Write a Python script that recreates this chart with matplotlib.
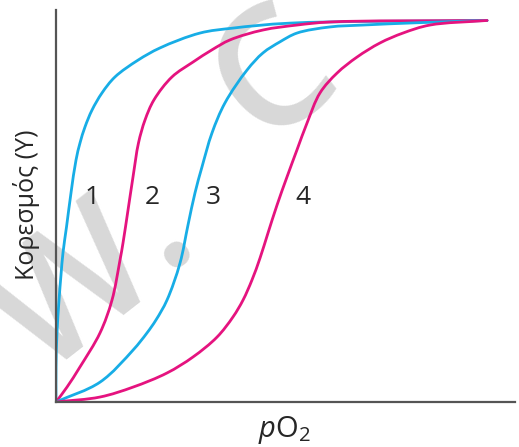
import matplotlib.pyplot as plt
from matplotlib.path import Path
from matplotlib.patches import PathPatch

plt.rcParams['font.family'] = ['Open Sans', 'DejaVu Sans']
plt.rcParams['mathtext.fontset'] = 'custom'
plt.rcParams['mathtext.rm'] = 'Open Sans'
plt.rcParams['mathtext.it'] = 'Open Sans:italic'

# saturation curves (pO2 in arbitrary units 0-100, Y 0-1)
po2_1 = [0, 0, 0.23, 0.70, 1.16, 1.62, 2.44, 3.48, 4.64, 5.57, 6.73, 8.35, 10.67, 13.69, 19.03, 24.13, 33.41, 41.07, 54.29, 100]
y_1 = [0, 0.092, 0.181, 0.267, 0.333, 0.391, 0.459, 0.548, 0.634, 0.679, 0.721, 0.765, 0.810, 0.852, 0.896, 0.928, 0.967, 0.980, 0.993, 1.0]

po2_2 = [0, 2.55, 5.57, 10.21, 12.99, 14.85, 15.55, 16.71, 17.87, 19.14, 20.65, 22.74, 26.91, 31.79, 36.19, 40.37, 48.03, 55.92, 63.57, 100]
y_2 = [0, 0.039, 0.092, 0.181, 0.267, 0.372, 0.417, 0.503, 0.590, 0.679, 0.739, 0.792, 0.852, 0.891, 0.923, 0.949, 0.975, 0.988, 0.996, 1.0]

po2_3 = [0, 10.21, 17.87, 21.11, 23.20, 25.75, 28.77, 30.63, 32.25, 33.87, 36.19, 39.21, 44.32, 48.03, 51.97, 55.92, 63.57, 71.23, 83.76, 100]
y_3 = [0, 0.052, 0.136, 0.181, 0.215, 0.267, 0.364, 0.464, 0.548, 0.616, 0.705, 0.784, 0.870, 0.915, 0.944, 0.967, 0.983, 0.988, 0.994, 1.0]

po2_4 = [0, 10.21, 17.87, 25.75, 31.79, 37.35, 41.07, 43.39, 45.48, 47.33, 49.19, 51.28, 53.60, 55.92, 58.24, 61.25, 65.20, 69.84, 75.17, 80.51, 86.77, 100]
y_4 = [0, 0.013, 0.039, 0.076, 0.118, 0.170, 0.223, 0.267, 0.320, 0.377, 0.443, 0.516, 0.590, 0.661, 0.731, 0.810, 0.862, 0.904, 0.941, 0.967, 0.988, 1.0]

curve_labels = ['1', '2', '3', '4']
label_x = [8.35, 22.3, 36.4, 57.3]
label_y = [0.537, 0.537, 0.537, 0.537]

cyan = '#17ade6'
magenta = '#e5137f'


def smooth_path(xs, ys, yscale=88.5):
    # centripetal catmull-rom through the read points, as cubic bezier segments
    pts = [(x, y * yscale) for x, y in zip(xs, ys)]
    n = len(pts)

    def knot(a, b):
        d = ((b[0] - a[0]) ** 2 + (b[1] - a[1]) ** 2) ** 0.5
        return max(d, 1e-6) ** 0.5

    verts = [pts[0]]
    codes = [Path.MOVETO]
    for i in range(n - 1):
        p1, p2 = pts[i], pts[i + 1]
        p0 = pts[i - 1] if i > 0 else (2 * p1[0] - p2[0], 2 * p1[1] - p2[1])
        p3 = pts[i + 2] if i + 2 < n else (2 * p2[0] - p1[0], 2 * p2[1] - p1[1])
        d0, d1, d2 = knot(p0, p1), knot(p1, p2), knot(p2, p3)
        m1 = [((p1[k] - p0[k]) / d0 - (p2[k] - p0[k]) / (d0 + d1) + (p2[k] - p1[k]) / d1) * d1
              for k in range(2)]
        m2 = [((p2[k] - p1[k]) / d1 - (p3[k] - p1[k]) / (d1 + d2) + (p3[k] - p2[k]) / d2) * d1
              for k in range(2)]
        c1 = (p1[0] + m1[0] / 3, p1[1] + m1[1] / 3)
        c2 = (p2[0] - m2[0] / 3, p2[1] - m2[1] / 3)
        verts += [c1, c2, p2]
        codes += [Path.CURVE4] * 3
    verts = [(x, y / yscale) for x, y in verts]
    return Path(verts, codes)


fig = plt.figure(figsize=(5.19, 4.47), dpi=100)
ax = fig.add_axes([0.1079, 0.1007, 0.8844, 0.877])
ax.set_zorder(1)
ax.patch.set_alpha(0)

# faint watermark behind the plot
for txt, px, py in [('W', 76, 296), ('.', 154, 222), ('C', 276, 78)]:
    fig.text(px / 519, 1 - py / 447, txt, fontsize=120, fontweight='semibold',
             color='#d8d8d8', rotation=38, ha='center', va='center',
             rotation_mode='anchor', zorder=0)

for xs, ys, col in [(po2_1, y_1, cyan), (po2_2, y_2, magenta),
                    (po2_3, y_3, cyan), (po2_4, y_4, magenta)]:
    ax.add_patch(PathPatch(smooth_path(xs, ys), facecolor='none', edgecolor=col,
                           lw=2.0, capstyle='round'))

for lab, lx, ly in zip(curve_labels, label_x, label_y):
    ax.text(lx, ly, lab, fontsize=19, color='#262626', ha='center', va='center')

ax.set_xlim(0, 106.5)
ax.set_ylim(0, 1.0275)
ax.spines['top'].set_visible(False)
ax.spines['right'].set_visible(False)
ax.spines['left'].set_color('#555555')
ax.spines['bottom'].set_color('#555555')
ax.spines['left'].set_linewidth(1.6)
ax.spines['bottom'].set_linewidth(1.6)
ax.set_xticks([])
ax.set_yticks([])

fig.text(27 / 519, 1 - 205 / 447, 'Κορεσμός (Y)', fontsize=18, color='#262626',
         rotation=90, ha='center', va='center', zorder=2)
fig.text(284 / 519, 1 - 430 / 447, r'$p$O$_2$', fontsize=21, color='#262626',
         ha='center', va='center', zorder=2)

fig.savefig('out.png', dpi=100)
